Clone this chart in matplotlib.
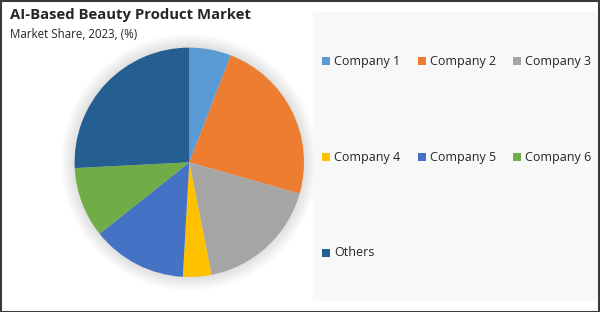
import matplotlib.pyplot as plt
from matplotlib.patches import Rectangle, Circle

labels = ['Company 1', 'Company 2', 'Company 3', 'Company 4', 'Company 5', 'Company 6', 'Others']
shares = [5.9, 23.5, 17.5, 4.0, 13.4, 9.9, 25.8]
colors = ['#5B9BD5', '#ED7D31', '#A5A5A5', '#FFC000', '#4472C4', '#70AD47', '#255E91']

plt.rcParams['font.family'] = ['Open Sans', 'DejaVu Sans']

W, H = 600, 312
fig = plt.figure(figsize=(6, 3.12), dpi=100)
fig.patch.set_facecolor('white')

# light panel behind the legend
fig.patches.append(Rectangle((313 / W, 1 - 301 / H), 284 / W, 289 / H,
                             transform=fig.transFigure, facecolor='#F8F8F8',
                             edgecolor='none', zorder=0))
# outer border
fig.patches.append(Rectangle((0.5 / W, 0.5 / H), 1 - 1.5 / W, 1 - 1.5 / H,
                             transform=fig.transFigure, facecolor='none',
                             edgecolor='#3A3A3A', linewidth=1.5, zorder=5))

cx, cy, r = 189.3, 162.3, 114.7
ax = fig.add_axes([(cx - r) / W, 1 - (cy + r) / H, 2 * r / W, 2 * r / H])
ax.patch.set_alpha(0)

# soft shadow around the pie
for k in range(10):
    ax.add_patch(Circle((0, 0), 1.0 + 0.012 * (k + 1), facecolor='#000000',
                        alpha=0.012, edgecolor='none', zorder=0, clip_on=False))

wedges, _ = ax.pie(shares, colors=colors, startangle=90, counterclock=False,
                   wedgeprops=dict(linewidth=0), radius=1.0)
ax.set_xlim(-1, 1)
ax.set_ylim(-1, 1)
ax.set_aspect('equal')
ax.axis('off')

fig.text(10 / W, 1 - 19 / H, 'AI-Based Beauty Product Market', fontsize=10.7,
         fontweight='bold', color='#262626', va='baseline')
fig.text(10 / W, 1 - 38 / H, 'Market Share, 2023, (%)', fontsize=8.3,
         color='#262626', va='baseline')

# legend, 3 columns
col_x = [322, 418, 513]
row_y = [61, 157, 253]
for i, (lab, col) in enumerate(zip(labels, colors)):
    x = col_x[i % 3]
    y = row_y[i // 3]
    fig.patches.append(Rectangle((x / W, 1 - (y + 4) / H), 8 / W, 8 / H,
                                 transform=fig.transFigure, facecolor=col,
                                 edgecolor='none', zorder=2))
    fig.text((x + 12) / W, 1 - y / H, lab, fontsize=9, color='#262626',
             va='center')

fig.savefig('out.png', dpi=100)
